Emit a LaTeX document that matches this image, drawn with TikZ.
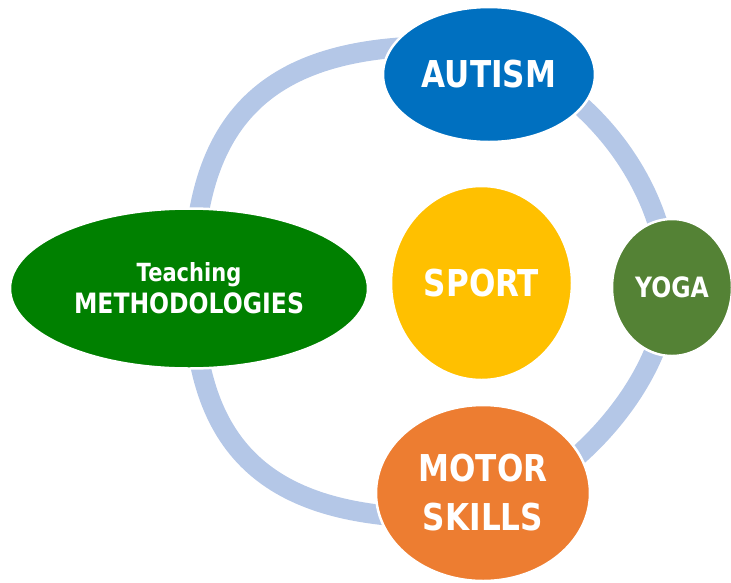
\documentclass[tikz,border=0pt]{standalone}
\usepackage{fontspec}
\newfontfamily\lblfont{DejaVu Sans}[FakeStretch=0.84]
\usetikzlibrary{shapes.geometric}
\definecolor{ringblue}{HTML}{B4C7E7}
\definecolor{autblue}{HTML}{0070C0}
\definecolor{teachgreen}{HTML}{008000}
\definecolor{sportyellow}{HTML}{FFC000}
\definecolor{yogagreen}{HTML}{548235}
\definecolor{motororange}{HTML}{ED7D31}
\begin{document}
\begin{tikzpicture}[x=1pt,y=-1pt,
  blob/.style={ellipse, draw=white, line width=2.5pt, inner sep=0pt, text=white, align=center},
  bigtxt/.style={font=\lblfont\bfseries\fontsize{37}{49}\selectfont},
  smalltxt/.style={font=\lblfont\bfseries\fontsize{28}{32}\selectfont},
  ring/.style={draw=ringblue, line width=20pt}]
\useasboundingbox (0,0) rectangle (731,582);
\coordinate (ringL) at (193,287);
\coordinate (ringT) at (440,46);
\coordinate (ringR) at (668,288);
\coordinate (ringB) at (440,518);
\draw[ring] (ringL) .. controls (193,117.6) and (267,46) .. (ringT)
  .. controls (554,46) and (668,166.5) .. (ringR)
  .. controls (668,391.5) and (542.6,518) .. (ringB)
  .. controls (267,518) and (193,448.7) .. cycle;
\node[blob, bigtxt, fill=autblue, minimum width=212pt, minimum height=135pt] (autism) at (489,74.5) {AUTISM};
\node[blob, smalltxt, fill=teachgreen, minimum width=358pt, minimum height=160pt] (teach) at (189,288.5) {{\fontsize{25}{32}\selectfont Teaching}\\METHODOLOGIES};
\node[blob, bigtxt, fill=sportyellow, minimum width=181pt, minimum height=194pt] (sport) at (481.5,283) {SPORT};
\node[blob, smalltxt, fill=yogagreen, minimum width=120pt, minimum height=137pt] (yoga) at (672,287.5) {YOGA};
\node[blob, bigtxt, fill=motororange, minimum width=214pt, minimum height=176pt] (motor) at (483,493) {MOTOR\\SKILLS};
\end{tikzpicture}
\end{document}
